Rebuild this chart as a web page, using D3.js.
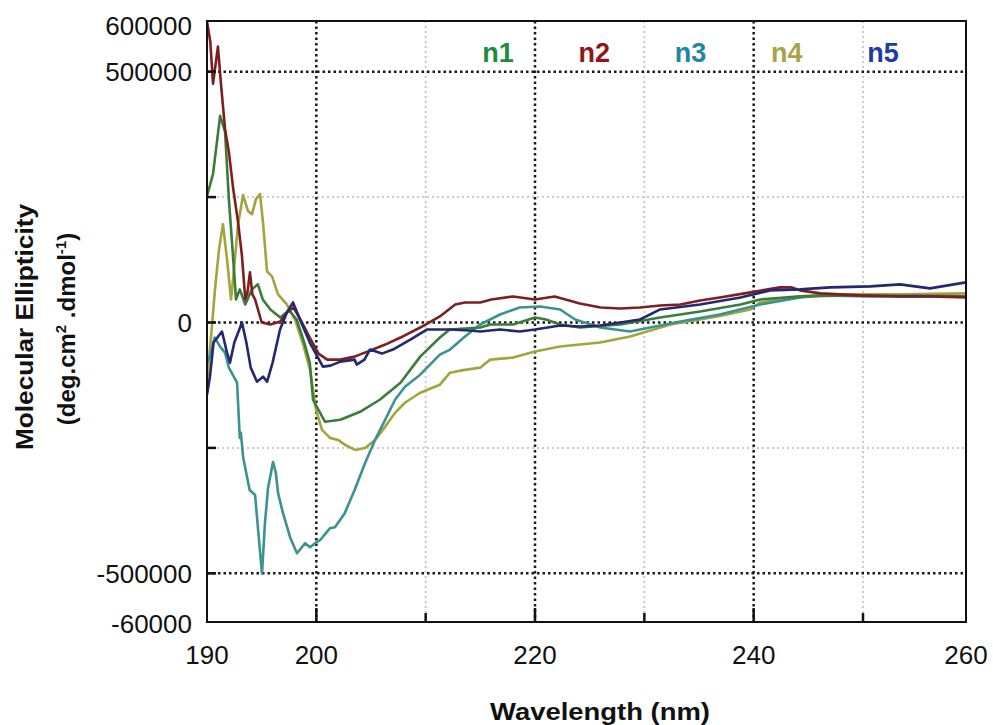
<!DOCTYPE html>
<html><head><meta charset="utf-8">
<script src="https://cdn.jsdelivr.net/npm/d3@7"></script>
<style>body{margin:0;background:#fff;}svg{display:block;font-family:"Liberation Sans",Arial,sans-serif;}</style>
</head><body><svg id="c" width="993" height="725"></svg>
<script>
// ---- data ----
const seriesNames = ["n1","n2","n3","n4","n5"];
const lineColors = ["#3a7d3a","#7e1f1f","#3a9292","#a4a43c","#23286f"];
const legendColors = ["#1e8c3c","#941515","#2385a5","#a5a548","#173ea0"];
const xTickValues = [190,200,220,240,260];
const xMinorGrid = [210,230,250];
const xMajorGrid = [200,220,240];
const xTickMarks = [200,210,220,230,240,250];
const yTickValues = [600000,500000,0,-500000,-600000];
const yTickLabels = ["600000","500000","0","-500000","-60000"];
const yMajorGrid = [500000,0,-500000];
const yMinorGrid = [250000,-250000];
const yTickMarks = [500000,250000,0,-250000,-500000];

const n1 = [[190.0,252000],[190.55,296000],[191.2,412000],[191.65,380000],[192.0,246000],[192.4,126000],[192.65,46000],[193.0,66000],[193.5,36000],[194.1,66000],[194.65,76000],[195.1,46000],[195.8,26000],[196.7,10000],[197.5,24000],[198.2,6000],[198.9,-40000],[199.4,-80000],[199.7,-154000],[200.8,-198000],[202.2,-194000],[204.0,-178000],[205.8,-154000],[207.7,-120000],[209.5,-68000],[211.3,-30000],[212.2,-14000],[215.0,-10000],[215.9,-4000],[218.0,-4000],[220.0,10000],[221.0,6000],[222.3,-4000],[224.1,-10000],[227.8,-4000],[231.45,10000],[235.1,22000],[238.8,36000],[240.6,46000],[244.25,52000],[248.8,54000],[253.6,52000],[260.0,52000]];
const n2 = [[190.0,600000],[190.3,560000],[190.55,476000],[191.0,550000],[191.3,470000],[191.65,386000],[192.0,340000],[192.4,266000],[192.84,200000],[193.2,132000],[193.5,46000],[193.7,60000],[193.93,100000],[194.15,56000],[194.4,46000],[195.0,0],[195.8,-4000],[196.7,2000],[197.3,20000],[197.9,30000],[198.5,8000],[199.4,-30000],[200.2,-62000],[201.0,-74000],[202.2,-74000],[203.5,-68000],[204.9,-56000],[206.3,-44000],[207.7,-30000],[209.5,-10000],[211.3,12000],[212.7,36000],[213.6,40000],[215.0,40000],[216.0,46000],[218.0,52000],[220.0,46000],[221.8,52000],[224.1,38000],[226.0,30000],[227.8,28000],[229.6,30000],[231.45,34000],[233.3,36000],[235.1,44000],[236.9,50000],[239.7,60000],[242.4,70000],[243.5,70000],[244.25,64000],[246.1,58000],[249.7,54000],[253.6,52000],[256.5,52000],[260.0,50000]];
const n3 = [[190.0,-80000],[190.27,-68000],[190.7,-30000],[191.2,-48000],[191.65,-60000],[192.0,-90000],[192.5,-110000],[192.75,-120000],[193.0,-230000],[193.1,-220000],[193.3,-268000],[193.9,-334000],[194.4,-344000],[194.7,-420000],[195.03,-500000],[195.3,-400000],[195.58,-330000],[196.04,-278000],[196.3,-300000],[196.5,-340000],[196.95,-380000],[197.6,-428000],[198.23,-460000],[198.97,-440000],[199.42,-448000],[199.88,-440000],[200.34,-434000],[201.25,-410000],[201.7,-408000],[202.6,-380000],[203.5,-334000],[204.46,-280000],[205.37,-234000],[206.29,-194000],[207.2,-154000],[208.1,-128000],[209.5,-104000],[211.3,-64000],[212.23,-54000],[213.6,-28000],[214.98,-4000],[216.8,16000],[218.6,30000],[220.47,32000],[222.3,26000],[223.67,6000],[225.96,-10000],[228.7,-18000],[229.6,-14000],[233.3,2000],[236.9,16000],[240.6,36000],[244.25,50000],[246.1,54000],[250.7,52000],[255.0,54000],[260.0,52000]];
const n4 = [[190.0,-120000],[190.4,-20000],[190.73,66000],[191.1,146000],[191.46,196000],[191.83,126000],[192.2,46000],[192.47,106000],[192.84,196000],[193.3,254000],[193.75,222000],[194.12,216000],[194.48,246000],[194.85,256000],[195.12,200000],[195.49,102000],[195.95,92000],[196.5,56000],[197.3,36000],[198.05,6000],[198.8,-44000],[199.42,-94000],[199.97,-174000],[200.52,-214000],[201.25,-230000],[201.99,-234000],[202.63,-244000],[203.54,-254000],[204.46,-250000],[205.37,-234000],[206.29,-208000],[207.2,-180000],[208.1,-160000],[209.5,-140000],[211.3,-124000],[212.23,-100000],[213.15,-96000],[214.98,-90000],[215.9,-74000],[218.0,-70000],[220.0,-58000],[222.3,-48000],[224.1,-44000],[225.96,-40000],[228.7,-28000],[232.4,-4000],[236.66,12000],[239.68,26000],[240.6,40000],[244.25,52000],[248.8,56000],[253.6,56000],[260.0,58000]];
const n5 = [[190.0,-144000],[190.27,-108000],[190.6,-40000],[191.37,-18000],[191.83,-60000],[192.1,-80000],[192.5,-40000],[193.2,0],[193.6,-40000],[194.0,-90000],[194.57,-118000],[195.12,-108000],[195.5,-118000],[196.0,-80000],[196.68,-14000],[197.3,20000],[197.87,40000],[198.5,6000],[199.4,-40000],[200.6,-88000],[201.3,-86000],[202.2,-78000],[203.5,-74000],[203.7,-84000],[204.4,-74000],[204.9,-54000],[206.0,-62000],[207.0,-54000],[208.6,-34000],[210.1,-14000],[211.3,-14000],[212.2,-14000],[214.0,-16000],[215.0,-18000],[216.8,-14000],[218.6,-18000],[220.0,-14000],[222.3,-6000],[224.1,-8000],[225.96,-6000],[227.8,0],[229.6,6000],[231.45,26000],[235.1,36000],[238.8,50000],[241.5,64000],[244.25,66000],[247.0,70000],[250.7,72000],[253.6,76000],[256.5,68000],[260.0,80000]];
const seriesData = [n1,n2,n3,n4,n5];
const drawOrder = [3,2,0,1,4];

// ---- layout ----
const L=207, R=966, T=21, B=622;
const svg = d3.select("#c");
const x = d3.scaleLinear().domain([190,250,260]).range([L,863,R]);
const y = d3.scaleLinear().domain([-600000,600000]).range([623.5,21.5]);

svg.append("rect").attr("width",993).attr("height",725).attr("fill","#fff");

const grid = svg.append("g");
grid.selectAll(".vmin").data(xMinorGrid).join("line")
  .attr("x1",d=>x(d)).attr("x2",d=>x(d)).attr("y1",T).attr("y2",B)
  .attr("stroke","#cacaca").attr("stroke-width",2).attr("stroke-dasharray","2,3");
grid.selectAll(".hmin").data(yMinorGrid).join("line")
  .attr("y1",d=>y(d)).attr("y2",d=>y(d)).attr("x1",L).attr("x2",R)
  .attr("stroke","#cacaca").attr("stroke-width",2).attr("stroke-dasharray","2,3");
const g2 = svg.append("g");
g2.selectAll("line.v").data(xMajorGrid).join("line")
  .attr("x1",d=>x(d)).attr("x2",d=>x(d)).attr("y1",T).attr("y2",B)
  .attr("stroke","#1a1a1a").attr("stroke-width",2.5).attr("stroke-dasharray","2.5,3");
g2.selectAll("line.h").data(yMajorGrid).join("line")
  .attr("y1",d=>y(d)).attr("y2",d=>y(d)).attr("x1",L).attr("x2",R)
  .attr("stroke","#1a1a1a").attr("stroke-width",2.5).attr("stroke-dasharray","2.5,3");

svg.append("clipPath").attr("id","clip").append("rect").attr("x",L).attr("y",T).attr("width",R-L).attr("height",B-T);

const line = d3.line().x(d=>x(d[0])).y(d=>y(d[1]));
const lg = svg.append("g").attr("clip-path","url(#clip)");
drawOrder.forEach(i=>{
  lg.append("path").datum(seriesData[i]).attr("d",line)
    .attr("fill","none").attr("stroke",lineColors[i]).attr("stroke-width",2.6)
    .attr("stroke-linejoin","round");
});

svg.append("g").selectAll("line").data(xTickMarks).join("line")
  .attr("x1",d=>x(d)).attr("x2",d=>x(d)).attr("y1",B).attr("y2",d=>B-(d%20===0?14:9))
  .attr("stroke","#111").attr("stroke-width",2.5);
svg.append("g").selectAll("line").data(yTickMarks).join("line")
  .attr("y1",d=>y(d)).attr("y2",d=>y(d)).attr("x1",L).attr("x2",L+9)
  .attr("stroke","#111").attr("stroke-width",2.5);

svg.append("rect").attr("x",L).attr("y",T).attr("width",R-L).attr("height",B-T)
  .attr("fill","none").attr("stroke","#111").attr("stroke-width",2);

svg.append("g").selectAll("text").data(xTickValues).join("text")
  .attr("x",d=>x(d)).attr("y",664).attr("text-anchor","middle")
  .attr("font-size",26).attr("fill","#111").text(d=>d);
svg.append("g").selectAll("text").data(yTickValues).join("text")
  .attr("x",192).attr("y",(d,i)=>y(d)+(i===0?4:0)).attr("dy","0.36em").attr("text-anchor","end")
  .attr("font-size",26).attr("fill","#111").text((d,i)=>yTickLabels[i]);

const legendX = d3.scaleLinear().domain([0,4]).range([498,883]);
svg.append("g").selectAll("text").data(seriesNames).join("text")
  .attr("x",(d,i)=>legendX(i)).attr("y",62).attr("text-anchor","middle")
  .attr("font-size",27).attr("font-weight","bold").attr("fill",(d,i)=>legendColors[i]).text(d=>d);

svg.append("text").attr("x",600).attr("y",720).attr("text-anchor","middle")
  .attr("font-size",23).attr("font-weight","bold").attr("fill","#111")
  .attr("textLength",220).attr("lengthAdjust","spacingAndGlyphs").text("Wavelength (nm)");

svg.append("text").attr("transform","translate(33,327) rotate(-90)")
  .attr("text-anchor","middle").attr("font-size",24).attr("font-weight","bold").attr("fill","#111")
  .attr("textLength",246).attr("lengthAdjust","spacingAndGlyphs").text("Molecular Ellipticity");
const yt2 = svg.append("text").attr("transform","translate(75,329) rotate(-90)")
  .attr("text-anchor","middle").attr("font-size",24).attr("font-weight","bold").attr("fill","#111");
yt2.append("tspan").text("(deg.cm");
yt2.append("tspan").attr("dy",-9).attr("font-size",15).text("2");
yt2.append("tspan").attr("dy",9).text(" .dmol");
yt2.append("tspan").attr("dy",-9).attr("font-size",15).text("-1");
yt2.append("tspan").attr("dy",9).text(")");
</script></body></html>
